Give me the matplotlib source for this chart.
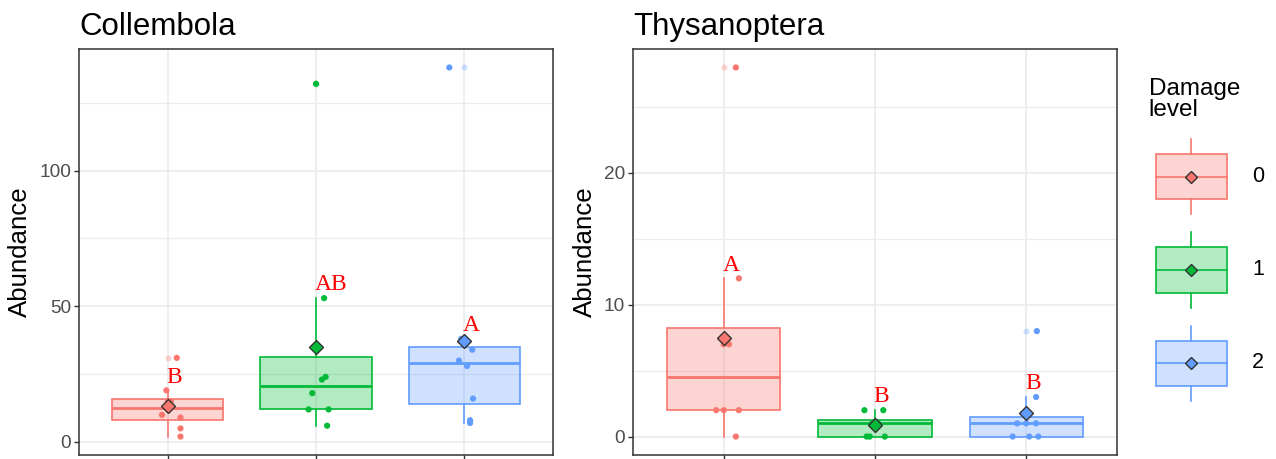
import numpy as np
import matplotlib
matplotlib.use("Agg")
import matplotlib.pyplot as plt
from matplotlib.colors import to_rgba
from matplotlib.patches import Patch, Rectangle
from matplotlib.lines import Line2D
from matplotlib.legend_handler import HandlerBase

plt.rcParams['font.family'] = ['Liberation Sans', 'DejaVu Sans']

levels = ['0', '1', '2']
colors = ['#F8766D', '#00BA38', '#619CFF']

# Collembola abundance per damage level
coll_0 = [31, 19, 15, 15, 10, 9, 5, 2]
coll_1 = [132, 53, 24, 23, 18, 12, 12, 6]
coll_2 = [138, 38, 34, 30, 28, 16, 8, 7]
coll_letters = ['B', 'AB', 'A']

# Thysanoptera abundance per damage level
thys_0 = [28, 12, 7, 7, 2, 2, 2, 0]
thys_1 = [2, 2, 1, 1, 1, 0, 0, 0]
thys_2 = [8, 3, 1, 1, 1, 0, 0, 0]
thys_letters = ['A', 'B', 'B']

# horizontal jitter of the points (same order as the values)
coll_jit = [[0.06, -0.01, 0.0, 0.02, -0.04, 0.085, 0.085, 0.085],
            [0.0, 0.055, 0.065, 0.04, -0.025, -0.05, 0.085, 0.075],
            [-0.1, -0.02, 0.055, -0.035, 0.02, 0.06, 0.04, 0.04]]
thys_jit = [[0.08, 0.1, 0.0, 0.035, -0.05, 0.0, 0.1, 0.08],
            [-0.07, 0.055, 0.0, 0.02, -0.02, -0.055, -0.035, 0.065],
            [0.07, 0.065, -0.06, 0.0, 0.065, -0.09, 0.02, 0.08]]

W, H = 1276, 459
EDGE = '#333333'


class BoxKey(HandlerBase):
    def create_artists(self, legend, orig_handle, xdescent, ydescent,
                       width, height, fontsize, trans):
        c = orig_handle.get_facecolor()
        x0, y0 = -xdescent, -ydescent
        bx, bw = x0 + 0.08 * width, 0.84 * width
        by, bh = y0 + 0.2 * height, 0.6 * height
        xm, ym = x0 + width / 2, y0 + height / 2
        rect = Rectangle((bx, by), bw, bh, facecolor=(*c[:3], 0.3),
                         edgecolor=c, lw=1.2, transform=trans)
        w1 = Line2D([xm, xm], [y0, by], color=c, lw=1.2, transform=trans)
        w2 = Line2D([xm, xm], [by + bh, y0 + height], color=c, lw=1.2, transform=trans)
        med = Line2D([bx, bx + bw], [ym, ym], color=c, lw=1.2, transform=trans)
        dia = Line2D([xm], [ym], marker='D', ms=6.6, mfc=c, mec=EDGE, mew=1,
                     ls='none', transform=trans)
        return [rect, w1, w2, med, dia]


def panel(ax, groups, jitter, letters, title, major, minor):
    for i, vals in enumerate(groups):
        pos = i + 1
        c = colors[i]
        bp = ax.boxplot(vals, positions=[pos], widths=0.75, whis=1.5,
                        patch_artist=True, manage_ticks=False,
                        boxprops=dict(facecolor=to_rgba(c, 0.3), edgecolor=c, linewidth=1.2),
                        medianprops=dict(color=c, linewidth=2.0),
                        whiskerprops=dict(color=c, linewidth=1.2),
                        capprops=dict(visible=False),
                        flierprops=dict(marker='o', markerfacecolor=c, markeredgecolor='none',
                                        markersize=4.4, alpha=0.3))
        ax.scatter(pos + np.array(jitter[i]), vals, s=20, color=c,
                   edgecolors='none', zorder=3)
        ax.plot(pos, np.mean(vals), marker='D', ms=7.6, mfc=c, mec=EDGE,
                mew=1, zorder=4)
        top = bp['whiskers'][1].get_ydata()[1]
        ax.annotate(letters[i], (pos, top), xytext=(-1, 2), textcoords='offset points',
                    ha='left', va='bottom', color='red', fontsize=17,
                    family=['Liberation Serif', 'DejaVu Serif'], zorder=5)

    allv = np.concatenate(groups)
    lo, hi = allv.min(), allv.max()
    r = hi - lo
    ax.set_ylim(lo - 0.05 * r, hi + 0.05 * r)
    ax.set_xlim(0.4, 3.6)
    ax.set_xticks([1, 2, 3])
    ax.set_xticklabels([])
    ax.set_yticks(major)
    ax.set_yticks(minor, minor=True)
    ax.grid(which='major', color='#EBEBEB', lw=1.2)
    ax.grid(which='minor', axis='y', color='#EBEBEB', lw=0.9)
    ax.set_axisbelow(True)
    ax.tick_params(which='major', labelsize=13.7, labelcolor='#4D4D4D', color=EDGE,
                   length=3.6, width=1, pad=2.2)
    ax.tick_params(which='minor', length=0)
    for s in ax.spines.values():
        s.set_color(EDGE)
        s.set_linewidth(1.1)
    ax.set_title(title, loc='left', fontsize=22.5, pad=10)


fig = plt.figure(figsize=(W / 100, H / 100), dpi=100)
ax1 = fig.add_axes([79 / W, (H - 455) / H, 474 / W, 406 / H])
ax2 = fig.add_axes([633 / W, (H - 455) / H, 484 / W, 406 / H])

panel(ax1, [coll_0, coll_1, coll_2], coll_jit, coll_letters, 'Collembola',
      [0, 50, 100], [25, 75, 125])
panel(ax2, [thys_0, thys_1, thys_2], thys_jit, thys_letters, 'Thysanoptera',
      [0, 10, 20], [5, 15, 25])

fig.text(20 / W, 1 - 252 / H, 'Abundance', rotation=90, ha='center', va='center', fontsize=18.6)
fig.text(585 / W, 1 - 252 / H, 'Abundance', rotation=90, ha='center', va='center', fontsize=18.6)

handles = [Patch(facecolor=c) for c in colors]
leg = fig.legend(handles, levels, handler_map={Patch: BoxKey()},
                 loc='upper left', bbox_to_anchor=(1138 / W, 1 - 67 / H),
                 frameon=False, borderpad=0, fontsize=15.5,
                 title='Damage\nlevel', title_fontsize=17.5, alignment='left',
                 handlelength=3.95, handleheight=5.0, labelspacing=0.84,
                 handletextpad=0.85)
leg.get_title().set_linespacing(0.95)

fig.savefig('out.png', dpi=100)
